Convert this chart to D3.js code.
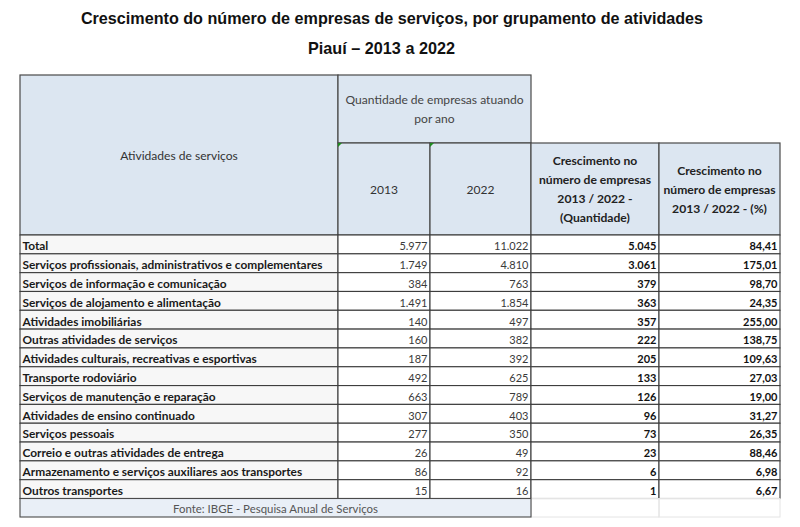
<!DOCTYPE html>
<html>
<head>
<meta charset="utf-8">
<script src="https://cdn.jsdelivr.net/npm/d3@7"></script>
<style>
  html, body { margin: 0; padding: 0; background: #fff; }
  svg { display: block; }
</style>
</head>
<body>
<div id="chart"></div>
<script>
// Dados: Piauí, 2013 a 2022 (IBGE - PAS)
const categories = [
  'Total',
  'Serviços profissionais, administrativos e complementares',
  'Serviços de informação e comunicação',
  'Serviços de alojamento e alimentação',
  'Atividades imobiliárias',
  'Outras atividades de serviços',
  'Atividades culturais, recreativas e esportivas',
  'Transporte rodoviário',
  'Serviços de manutenção e reparação',
  'Atividades de ensino continuado',
  'Serviços pessoais',
  'Correio e outras atividades de entrega',
  'Armazenamento e serviços auxiliares aos transportes',
  'Outros transportes'
];
const values2013 = [5977, 1749, 384, 1491, 140, 160, 187, 492, 663, 307, 277, 26, 86, 15];
const values2022 = [11022, 4810, 763, 1854, 497, 382, 392, 625, 789, 403, 350, 49, 92, 16];
const growthQty = [5045, 3061, 379, 363, 357, 222, 205, 133, 126, 96, 73, 23, 6, 1];
const growthPct = [84.41, 175.01, 98.70, 24.35, 255.00, 138.75, 109.63, 27.03, 19.00, 31.27, 26.35, 88.46, 6.98, 6.67];

const titleLines = ['Crescimento do número de empresas de serviços, por grupamento de atividades', 'Piauí – 2013 a 2022'];
const headQtd = ['Quantidade de empresas atuando', 'por ano'];
const headYears = ['2013', '2022'];
const headGrowthQty = ['Crescimento no', 'número de empresas', '2013 / 2022 -', '(Quantidade)'];
const headGrowthPct = ['Crescimento no', 'número de empresas', '2013 / 2022 - (%)'];
const sourceText = 'Fonte: IBGE - Pesquisa Anual de Serviços';

const W = 800, H = 527;
const FONT = 'Lato, "Open Sans", sans-serif';
const headFill = '#dce6f1';
const gridColor = '#3d3d3d';
const cellSize = 11;
const headFont = 11.6;

const br = d3.formatLocale({ decimal: ',', thousands: '.', grouping: [3], currency: ['R$', ''] });
const fmtInt = br.format(',d');
const fmtPct = br.format(',.2f');

const svg = d3.select('#chart').append('svg')
  .attr('width', W)
  .attr('height', H);

// column edges
const colKeys = ['label', 'y2013', 'y2022', 'gQty', 'gPct'];
const colLeft = d3.scaleOrdinal().domain(colKeys).range([20, 338, 430, 531, 659]);
const colRight = d3.scaleOrdinal().domain(colKeys).range([338, 430, 531, 659, 780]);

const tableTop = 75, subTop = 143, headBottom = 235;
const y = d3.scaleBand().domain(categories).range([headBottom, 498.5]);
const srcTop = y.range()[1], srcBottom = 517;

function measure(text, weight, size, family) {
  const t = svg.append('text').attr('font-family', family || FONT).attr('font-weight', weight)
    .attr('font-size', size).text(text);
  const w = t.node().getComputedTextLength();
  t.remove();
  return w;
}
// condense glyphs of a text node by a factor (Calibri-like narrow look)
function squeeze(sel, factor) {
  sel.each(function () {
    const w = this.getComputedTextLength();
    d3.select(this).attr('textLength', w * factor).attr('lengthAdjust', 'spacingAndGlyphs');
  });
}

// ---- title
const TITLE_FONT = '"Liberation Sans", Arial, sans-serif';
svg.selectAll('text.title').data(titleLines).join('text')
  .attr('class', 'title')
  .attr('x', (d, i) => i === 0 ? 392 : 381.5)
  .attr('y', (d, i) => i === 0 ? 24 : 53.5)
  .attr('text-anchor', 'middle')
  .attr('font-family', TITLE_FONT)
  .attr('font-weight', 'bold')
  .attr('font-size', (d, i) => 15 * (i === 0 ? 623 : 147) / measure(d, 'bold', 15, TITLE_FONT))
  .attr('fill', '#111')
  .text(d => d);

// ---- header cells
const g = svg.append('g');
const headCells = [
  { x0: colLeft('label'), x1: colRight('label'), y0: tableTop, y1: headBottom },
  { x0: colLeft('y2013'), x1: colRight('y2022'), y0: tableTop, y1: subTop },
  { x0: colLeft('y2013'), x1: colRight('y2013'), y0: subTop, y1: headBottom },
  { x0: colLeft('y2022'), x1: colRight('y2022'), y0: subTop, y1: headBottom },
  { x0: colLeft('gQty'), x1: colRight('gQty'), y0: subTop, y1: headBottom },
  { x0: colLeft('gPct'), x1: colRight('gPct'), y0: subTop, y1: headBottom }
];
g.selectAll('rect.head').data(headCells).join('rect')
  .attr('class', 'head')
  .attr('x', d => d.x0).attr('y', d => d.y0)
  .attr('width', d => d.x1 - d.x0).attr('height', d => d.y1 - d.y0)
  .attr('fill', headFill)
  .attr('stroke', '#4a4a4a').attr('stroke-width', 1.2);

// green error indicators on year cells
g.selectAll('path.tri').data(['y2013', 'y2022']).join('path')
  .attr('class', 'tri')
  .attr('d', k => `M${colLeft(k)},${subTop} h4 l-4,4 Z`)
  .attr('fill', '#1f8a1f');

const headSqueeze = 178 / measure(headQtd[0], 'normal', headFont);
const growthSqueeze = 112 / measure(headGrowthQty[1], 'bold', headFont);
// labels are set at cellSize and condensed so the longest one spans 300px
const labelSqueeze = 300 / measure(categories[1], 'bold', cellSize);

g.append('text')
  .attr('x', (colLeft('label') + colRight('label')) / 2).attr('y', 160)
  .attr('text-anchor', 'middle')
  .attr('font-family', FONT).attr('font-size', headFont).attr('fill', '#333')
  .text('Atividades de serviços')
  .call(squeeze, headSqueeze);

g.selectAll('text.hq').data(headQtd).join('text')
  .attr('class', 'hq')
  .attr('x', (colLeft('y2013') + colRight('y2022')) / 2)
  .attr('y', (d, i) => 104 + i * 19.3)
  .attr('text-anchor', 'middle')
  .attr('font-family', FONT).attr('font-size', headFont).attr('fill', '#444')
  .text(d => d)
  .call(squeeze, headSqueeze);

g.selectAll('text.hy').data(headYears).join('text')
  .attr('class', 'hy')
  .attr('x', (d, i) => { const k = colKeys[i + 1]; return (colLeft(k) + colRight(k)) / 2; })
  .attr('y', 194)
  .attr('text-anchor', 'middle')
  .attr('font-family', FONT).attr('font-size', headFont).attr('fill', '#333')
  .text(d => d)
  .call(squeeze, headSqueeze);

g.selectAll('text.hgq').data(headGrowthQty).join('text')
  .attr('class', 'hgq')
  .attr('x', (colLeft('gQty') + colRight('gQty')) / 2)
  .attr('y', (d, i) => 164.5 + i * 19)
  .attr('text-anchor', 'middle')
  .attr('font-family', FONT).attr('font-weight', 'bold')
  .attr('font-size', headFont).attr('fill', '#222')
  .text(d => d)
  .call(squeeze, growthSqueeze);

g.selectAll('text.hgp').data(headGrowthPct).join('text')
  .attr('class', 'hgp')
  .attr('x', (colLeft('gPct') + colRight('gPct')) / 2)
  .attr('y', (d, i) => 174.5 + i * 19.3)
  .attr('text-anchor', 'middle')
  .attr('font-family', FONT).attr('font-weight', 'bold')
  .attr('font-size', headFont).attr('fill', '#222')
  .text(d => d)
  .call(squeeze, growthSqueeze);

// ---- body rows
const rows = categories.map((c, i) => ({
  label: c,
  y2013: values2013[i],
  y2022: values2022[i],
  gQty: growthQty[i],
  gPct: growthPct[i]
}));

const cellStyle = {
  label: { fill: '#f7f7f7', color: '#1a1a1a', weight: 'bold', fmt: d => d },
  y2013: { fill: '#ffffff', color: '#3a3a3a', weight: 'normal', fmt: fmtInt },
  y2022: { fill: '#ffffff', color: '#3a3a3a', weight: 'normal', fmt: fmtInt },
  gQty: { fill: '#ffffff', color: '#111', weight: 'bold', fmt: fmtInt },
  gPct: { fill: '#ffffff', color: '#111', weight: 'bold', fmt: fmtPct }
};

const body = svg.append('g');
const rowG = body.selectAll('g.row').data(rows).join('g')
  .attr('class', 'row')
  .attr('transform', d => `translate(0,${y(d.label)})`);

rowG.selectAll('rect').data(d => colKeys.map(k => ({ k, v: d[k] }))).join('rect')
  .attr('x', d => colLeft(d.k))
  .attr('width', d => colRight(d.k) - colLeft(d.k))
  .attr('height', y.bandwidth())
  .attr('fill', d => cellStyle[d.k].fill)
  .attr('stroke', gridColor).attr('stroke-width', 1.1);

rowG.selectAll('text').data(d => colKeys.map(k => ({ k, v: d[k] }))).join('text')
  .attr('x', d => d.k === 'label' ? colLeft(d.k) + 2.5 : colRight(d.k) - 2.5)
  .attr('y', y.bandwidth() - 3.6)
  .attr('text-anchor', d => d.k === 'label' ? 'start' : 'end')
  .attr('font-family', FONT)
  .attr('font-size', cellSize)
  .attr('font-weight', d => cellStyle[d.k].weight)
  .attr('fill', d => cellStyle[d.k].color)
  .text(d => cellStyle[d.k].fmt(d.v))
  .filter(d => d.k === 'label')
  .call(squeeze, labelSqueeze);

// ---- source row
svg.selectAll('rect.ghost').data(['gQty', 'gPct']).join('rect')
  .attr('class', 'ghost')
  .attr('x', k => colLeft(k)).attr('y', srcTop)
  .attr('width', k => colRight(k) - colLeft(k)).attr('height', srcBottom - srcTop)
  .attr('fill', 'none').attr('stroke', '#e4e4e4').attr('stroke-width', 1);
svg.append('rect')
  .attr('x', colLeft('label')).attr('y', srcTop)
  .attr('width', colRight('y2022') - colLeft('label')).attr('height', srcBottom - srcTop)
  .attr('fill', '#e9eff7')
  .attr('stroke', '#4a4a4a').attr('stroke-width', 1.1);
svg.append('text')
  .attr('x', (colLeft('label') + colRight('y2022')) / 2).attr('y', srcBottom - 4.5)
  .attr('text-anchor', 'middle')
  .attr('font-family', FONT).attr('font-size', headFont)
  .attr('fill', '#555')
  .text(sourceText)
  .call(squeeze, 205 / measure(sourceText, 'normal', headFont));
</script>
</body>
</html>
